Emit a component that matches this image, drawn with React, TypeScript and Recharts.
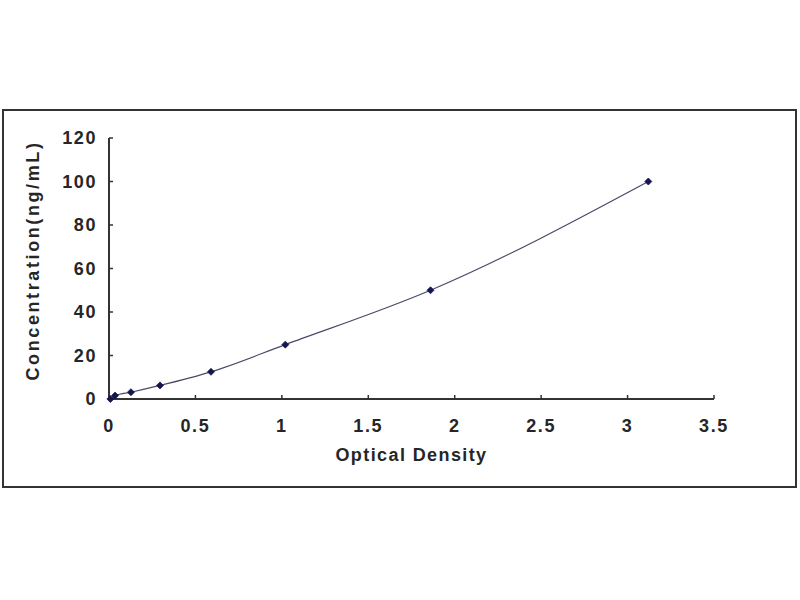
import { ComposedChart, Line, XAxis, YAxis, Label } from "recharts";

// standard curve: optical density vs concentration (ng/mL)
const density = [0.008, 0.035, 0.127, 0.295, 0.59, 1.02, 1.86, 3.12];
const concentration = [0, 1.56, 3.12, 6.25, 12.5, 25, 50, 100];
const xTicks = [0, 0.5, 1, 1.5, 2, 2.5, 3, 3.5];
const yTicks = [0, 20, 40, 60, 80, 100, 120];

const FONT = "'Liberation Sans', Arial, sans-serif";
const INK = "#262626";

const chartData = density.map((od, i) => ({ od, conc: concentration[i] }));

const Diamond = (props: any) => {
  const { cx, cy, index } = props;
  if (cx == null || cy == null) return null;
  const r = 3.5;
  return (
    <path
      key={`d-${index}`}
      d={`M${cx},${cy - r}L${cx + r},${cy}L${cx},${cy + r}L${cx - r},${cy}Z`}
      fill="#151550"
      stroke="#151550"
      strokeWidth={0.8}
    />
  );
};

const YTitle = (props: any) => {
  const { viewBox } = props;
  const x = viewBox.x + 13;
  const y = viewBox.y + viewBox.height / 2 - 8;
  return (
    <text
      x={x}
      y={y}
      transform={`rotate(-90 ${x} ${y})`}
      textAnchor="middle"
      dominantBaseline="central"
      fontFamily={FONT}
      fontWeight="bold"
      fontSize={18}
      letterSpacing={2.6}
      fill={INK}
    >
      Concentration(ng/mL)
    </text>
  );
};

const tickStyle = {
  fontFamily: FONT,
  fontWeight: "bold" as const,
  fontSize: 18,
  letterSpacing: 1.6,
  fill: INK,
};

export default function App() {
  return (
    <div
      style={{
        position: "absolute",
        left: 0,
        top: 0,
        width: 800,
        height: 600,
        background: "#fff",
      }}
    >
      <div
        style={{
          position: "absolute",
          left: 2,
          top: 109,
          width: 791,
          height: 375,
          border: "2px solid #333",
        }}
      />
      <div style={{ position: "absolute", left: 0, top: 0 }}>
        <ComposedChart
          width={800}
          height={600}
          data={chartData}
          margin={{ left: 20, right: 86, top: 138, bottom: 131 }}
        >
          <XAxis
            dataKey="od"
            type="number"
            domain={[0, 3.5]}
            ticks={xTicks}
            height={70}
            axisLine={{ stroke: "#333", strokeWidth: 2 }}
            tickLine={{ stroke: "#333", strokeWidth: 1.5 }}
            tickSize={-4}
            tickMargin={24}
            tick={tickStyle}
          >
            <Label
              value="Optical Density"
              position="insideBottom"
              offset={8}
              style={{
                fontFamily: FONT,
                fontWeight: "bold",
                fontSize: 18,
                letterSpacing: 1.4,
                fill: INK,
              }}
            />
          </XAxis>
          <YAxis
            dataKey="conc"
            type="number"
            domain={[0, 120]}
            ticks={yTicks}
            width={89}
            axisLine={{ stroke: "#333", strokeWidth: 2 }}
            tickLine={{ stroke: "#333", strokeWidth: 1.5 }}
            tickSize={-4}
            tickMargin={16}
            tick={tickStyle}
          >
            <Label content={<YTitle />} />
          </YAxis>
          <Line
            dataKey="conc"
            type="monotone"
            stroke="#4a4a68"
            strokeWidth={1.2}
            dot={<Diamond />}
            activeDot={false}
            isAnimationActive={false}
          />
        </ComposedChart>
      </div>
    </div>
  );
}
